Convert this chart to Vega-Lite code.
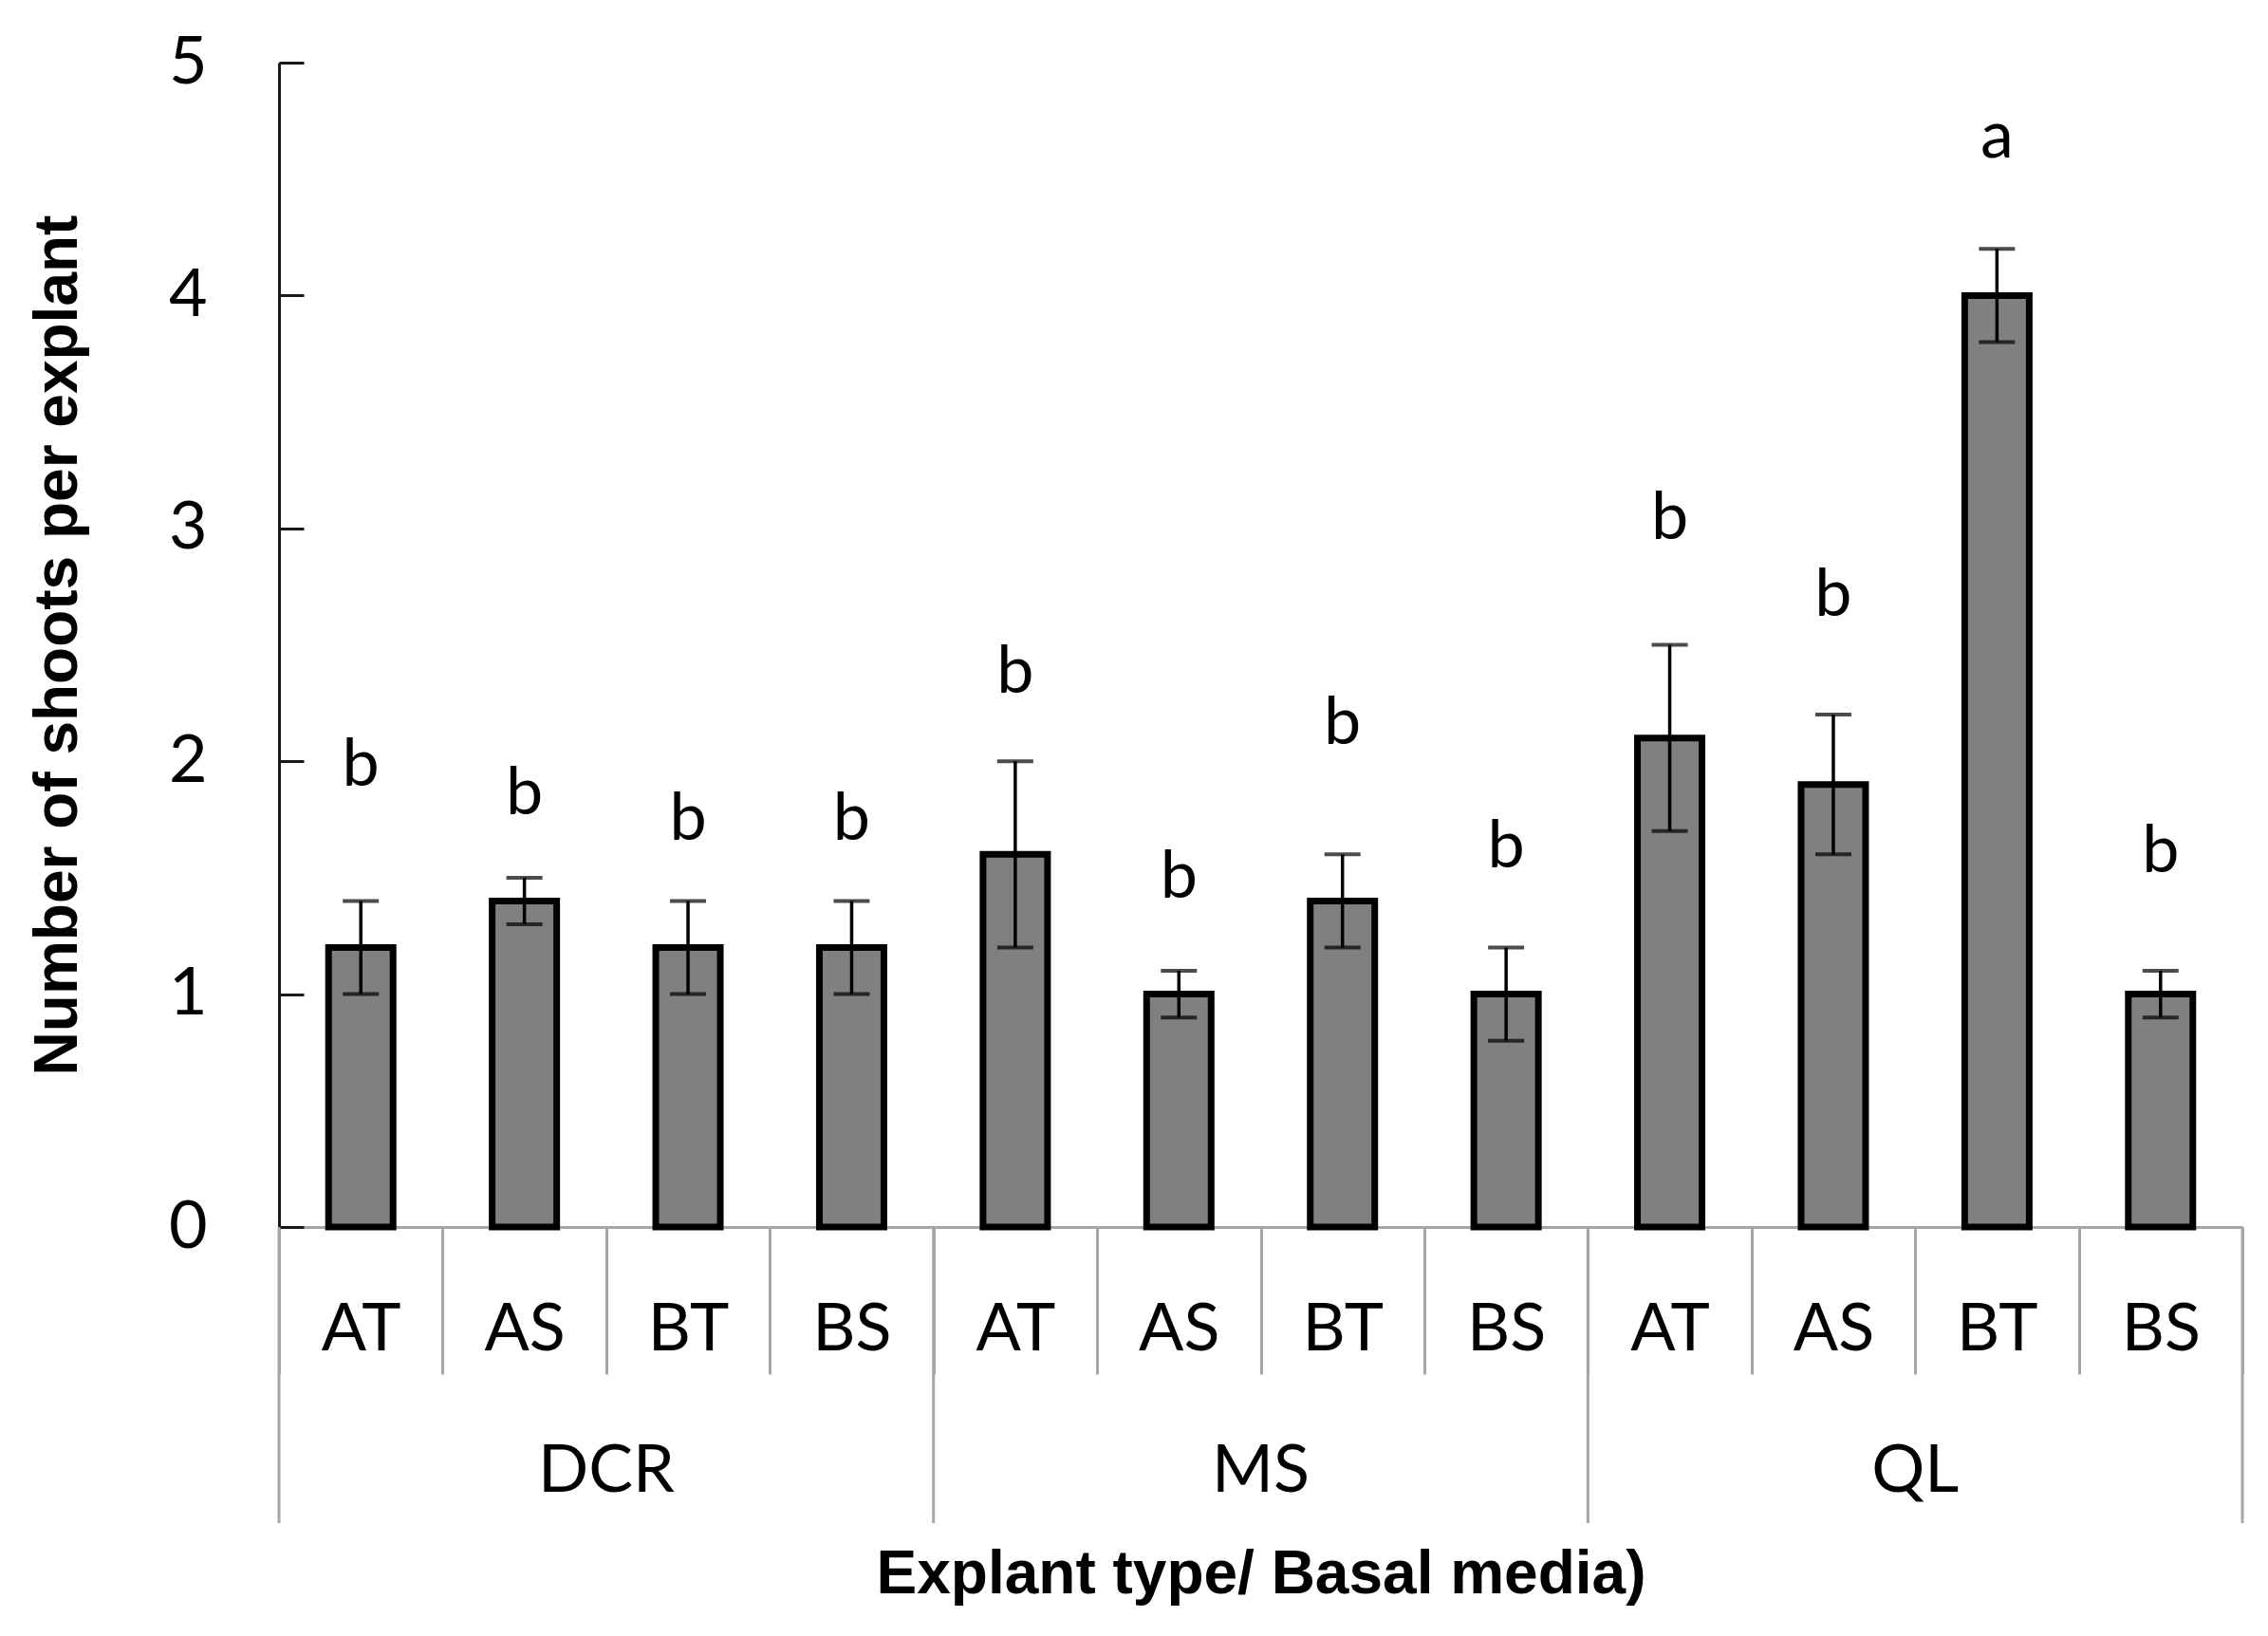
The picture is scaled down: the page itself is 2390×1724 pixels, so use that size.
{
  "$schema": "https://vega.github.io/schema/vega-lite/v6.json",
  "autosize": {"type": "none"},
  "width": 2069,
  "height": 1227,
  "padding": {"left": 294, "top": 66, "right": 27, "bottom": 431},
  "background": "white",
  "config": {"view": {"stroke": null}},
  "data": {
    "values": [
      {"grp": "DCR", "sub": "AT", "key": "DCR AT", "value": 1.2, "se": 0.2, "letter": "b", "label_at": 1.98},
      {"grp": "DCR", "sub": "AS", "key": "DCR AS", "value": 1.4, "se": 0.1, "letter": "b", "label_at": 1.86},
      {"grp": "DCR", "sub": "BT", "key": "DCR BT", "value": 1.2, "se": 0.2, "letter": "b", "label_at": 1.75},
      {"grp": "DCR", "sub": "BS", "key": "DCR BS", "value": 1.2, "se": 0.2, "letter": "b", "label_at": 1.75},
      {"grp": "MS", "sub": "AT", "key": "MS AT", "value": 1.6, "se": 0.4, "letter": "b", "label_at": 2.38},
      {"grp": "MS", "sub": "AS", "key": "MS AS", "value": 1.0, "se": 0.1, "letter": "b", "label_at": 1.5},
      {"grp": "MS", "sub": "BT", "key": "MS BT", "value": 1.4, "se": 0.2, "letter": "b", "label_at": 2.16},
      {"grp": "MS", "sub": "BS", "key": "MS BS", "value": 1.0, "se": 0.2, "letter": "b", "label_at": 1.63},
      {"grp": "QL", "sub": "AT", "key": "QL AT", "value": 2.1, "se": 0.4, "letter": "b", "label_at": 3.04},
      {"grp": "QL", "sub": "AS", "key": "QL AS", "value": 1.9, "se": 0.3, "letter": "b", "label_at": 2.71},
      {"grp": "QL", "sub": "BT", "key": "QL BT", "value": 4.0, "se": 0.2, "letter": "a", "label_at": 4.68},
      {"grp": "QL", "sub": "BS", "key": "QL BS", "value": 1.0, "se": 0.1, "letter": "b", "label_at": 1.61}
    ]
  },
  "encoding": {
    "x": {
      "field": "key",
      "type": "nominal",
      "sort": null,
      "scale": {
        "domain": ["DCR AT", "DCR AS", "DCR BT", "DCR BS", "MS AT", "MS AS", "MS BT", "MS BS", "QL AT", "QL AS", "QL BT", "QL BS"],
        "paddingInner": 0,
        "paddingOuter": 0
      },
      "axis": {
        "title": "Explant type/ Basal media)",
        "labelExpr": "split(datum.label, ' ')[1]",
        "labelAngle": 0,
        "labelOverlap": false,
        "tickBand": "extent",
        "tickSize": 155,
        "tickColor": "#a6a6a6",
        "tickWidth": 3,
        "domainColor": "#a6a6a6",
        "domainWidth": 3,
        "labelFont": "Lato",
        "labelFontSize": 70,
        "labelColor": "black",
        "labelBaseline": "middle",
        "labelPadding": -47,
        "titleFont": "Liberation Sans",
        "titleFontSize": 64,
        "titleFontWeight": "bold",
        "titleColor": "black",
        "titlePadding": 178
      }
    }
  },
  "layer": [
    {
      "transform": [{"filter": "datum.sub == 'AT'"}],
      "mark": {"type": "rule", "color": "#a6a6a6", "strokeWidth": 3},
      "encoding": {
        "x": {"field": "key", "type": "nominal", "bandPosition": 0},
        "y": {"datum": 0, "type": "quantitative"},
        "y2": {"datum": -1.271}
      }
    },
    {
      "transform": [{"filter": "datum.key == 'QL BS'"}],
      "mark": {"type": "rule", "color": "#a6a6a6", "strokeWidth": 3},
      "encoding": {
        "x": {"field": "key", "type": "nominal", "bandPosition": 1},
        "y": {"datum": 0, "type": "quantitative"},
        "y2": {"datum": -1.271}
      }
    },
    {
      "mark": {"type": "bar", "size": 68, "fill": "#808080", "stroke": "black", "strokeWidth": 7},
      "encoding": {
        "y": {
          "field": "value",
          "type": "quantitative",
          "title": "Number of shoots per explant",
          "scale": {"domain": [0, 5], "nice": false, "zero": true},
          "axis": {
            "values": [0, 1, 2, 3, 4, 5],
            "format": "d",
            "grid": false,
            "tickSize": -26,
            "tickColor": "#1a1a1a",
            "tickWidth": 3,
            "domainColor": "#1a1a1a",
            "domainWidth": 3,
            "labelFont": "Lato",
            "labelFontSize": 70,
            "labelColor": "black",
            "labelPadding": 102,
            "titleFont": "Liberation Sans",
            "titleFontSize": 64,
            "titleFontWeight": "bold",
            "titleColor": "black",
            "titlePadding": 84
          }
        }
      }
    },
    {
      "mark": {
        "type": "errorbar",
        "ticks": {"size": 38, "thickness": 4, "color": "black"},
        "rule": {"strokeWidth": 3.5, "color": "black"}
      },
      "encoding": {
        "y": {"field": "value", "type": "quantitative", "title": "Number of shoots per explant"},
        "yError": {"field": "se"}
      }
    },
    {
      "mark": {"type": "text", "font": "Lato", "fontSize": 70, "color": "black", "baseline": "middle", "align": "center"},
      "encoding": {
        "y": {"field": "label_at", "type": "quantitative", "title": "Number of shoots per explant"},
        "text": {"field": "letter"}
      }
    },
    {
      "transform": [{"filter": "datum.sub == 'BT'"}],
      "mark": {"type": "text", "font": "Lato", "fontSize": 70, "color": "black", "baseline": "middle", "align": "center"},
      "encoding": {
        "x": {"field": "key", "type": "nominal", "bandPosition": 0},
        "y": {"datum": -1.051, "type": "quantitative"},
        "text": {"field": "grp"}
      }
    }
  ]
}
